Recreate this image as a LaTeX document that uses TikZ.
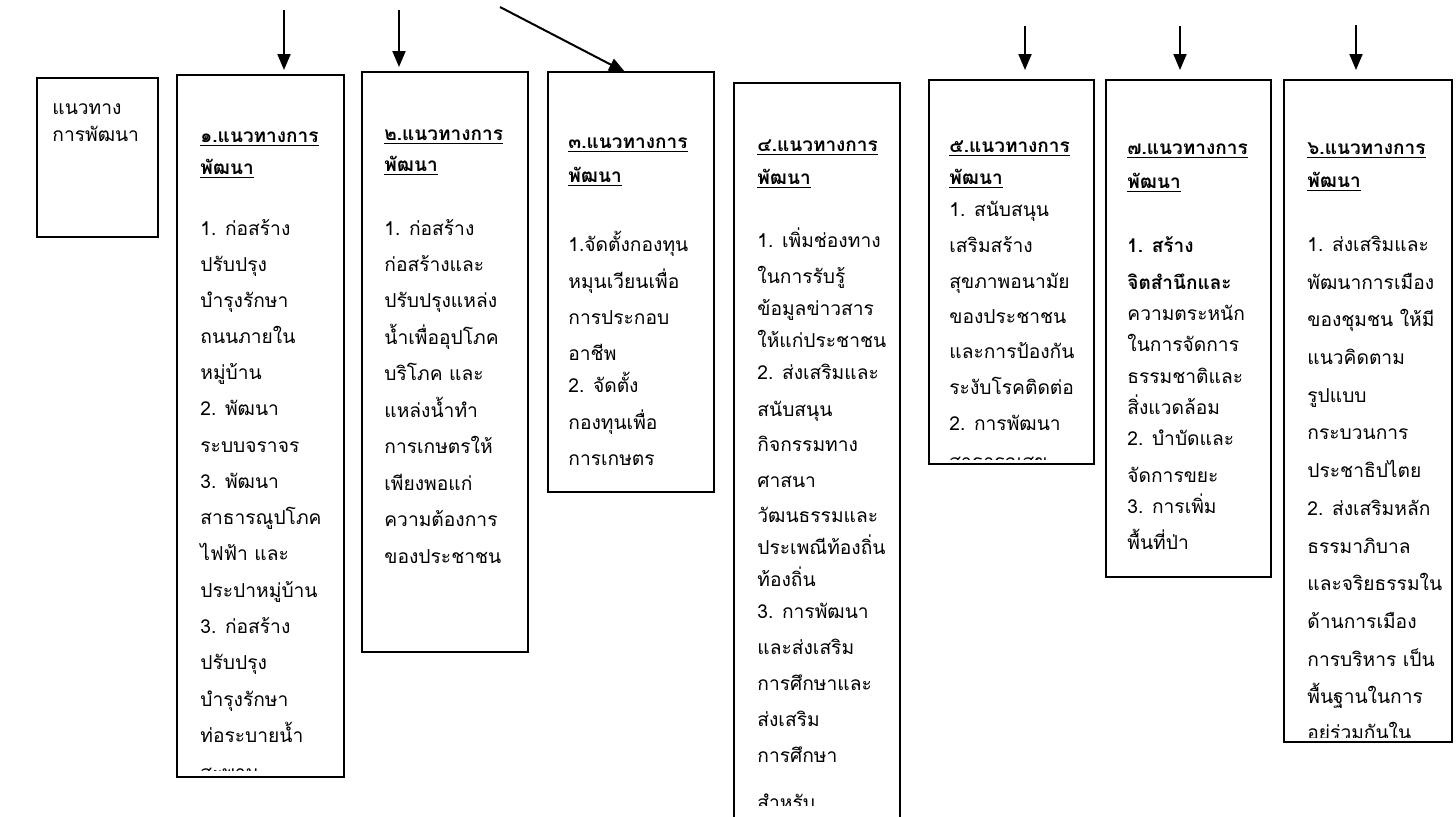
\documentclass[tikz,border=0pt]{standalone}
\usepackage{fontspec}
\newfontfamily\thai[Script=Thai]{Loma}
\usetikzlibrary{arrows.meta}
\newcommand\tf{\thai\fontsize{9.6}{11}\selectfont}
\newcommand\tfb{\thai\bfseries\fontsize{9.5}{11}\selectfont}
\newcommand\mkbox[5]{\node[box, minimum width={(#4-#2)*0.5pt}, minimum height={(#5-#3)*0.5pt}] (#1) at (#2,#3) {};}
\newcommand\mklines[3]{\foreach \yy/\txt [count=\i] in {#3} {\node[tline] (#1\i) at (#2,\yy+6) {\txt};}}
\begin{document}
\begin{tikzpicture}[x=0.5pt,y=-0.5pt,
  box/.style={draw, line width=1pt, inner sep=0pt, outer sep=0pt, anchor=north west},
  tline/.style={anchor=base west, inner sep=0pt, font=\tf},
  hline/.style={anchor=base west, inner sep=0pt, font=\tfb},
  arr/.style={line width=1pt, -{Triangle[length=8pt,width=6.5pt]}, shorten >=2.5pt},
  uline/.style={line width=0.6pt}]
\useasboundingbox (0,0) rectangle (1456,816);
\fill[white] (0,0) rectangle (1456,816);

% boxes
\mkbox{B0}{37}{78}{158}{237}
\mkbox{B1}{177}{75}{344}{777}
\mkbox{B2}{362}{72}{528}{652}
\mkbox{B3}{548}{72}{714}{492}
\mkbox{B4}{734}{83}{900}{840}
\mkbox{B5}{929}{80}{1094}{464}
\mkbox{B7}{1106}{80}{1271}{577}
\mkbox{B6}{1284}{80}{1452}{742}

% box 0
\node[tline] (t0a) at (52,108+6) {แนวทาง};
\node[tline] (t0b) at (52,135+6) {การพัฒนา};

% box 1
\begin{scope}
\clip (178,76) rectangle (343,770);
\node[hline] (h1a) at (200,136+6) {๑.แนวทางการ};
\node[hline] (h1b) at (200,168+6) {พัฒนา};
\mklines{l1-}{200}{229/1. ก่อสร้าง,265/ปรับปรุง,301/บำรุงรักษา,337/ถนนภายใน,373/หมู่บ้าน,409/2. พัฒนา,446/ระบบจราจร,482/3. พัฒนา,518/สาธารณูปโภค,554/ไฟฟ้า และ,591/ประปาหมู่บ้าน,627/3. ก่อสร้าง,663/ปรับปรุง,700/บำรุงรักษา,736/ท่อระบายน้ำ,773/สะพาน}
\end{scope}

% box 2
\begin{scope}
\clip (363,73) rectangle (527,651);
\node[hline] (h2a) at (384,134+6) {๒.แนวทางการ};
\node[hline] (h2b) at (384,165+6) {พัฒนา};
\mklines{l2-}{384}{229/1. ก่อสร้าง,265/ก่อสร้างและ,301/ปรับปรุงแหล่ง,338/น้ำเพื่ออุปโภค,374/บริโภค และ,411/แหล่งน้ำทำ,447/การเกษตรให้,484/เพียงพอแก่,520/ความต้องการ,557/ของประชาชน}
\end{scope}

% box 3
\begin{scope}
\clip (549,73) rectangle (713,491);
\node[hline] (h3a) at (568,142+6) {๓.แนวทางการ};
\node[hline] (h3b) at (568,176+6) {พัฒนา};
\mklines{l3-}{568}{245/1.จัดตั้งกองทุน,282/หมุนเวียนเพื่อ,318/การประกอบ,354/อาชีพ,386/2. จัดตั้ง,423/กองทุนเพื่อ,459/การเกษตร}
\end{scope}

% box 4
\begin{scope}
\clip (735,84) rectangle (899,805);
\node[hline] (h4a) at (757,145+6) {๔.แนวทางการ};
\node[hline] (h4b) at (757,178+6) {พัฒนา};
\mklines{l4-}{757}{241/1. เพิ่มช่องทาง,277/ในการรับรู้,309/ข้อมูลข่าวสาร,341/ให้แก่ประชาชน,373/2. ส่งเสริมและ,410/สนับสนุน,445/กิจกรรมทาง,481/ศาสนา,516/วัฒนธรรมและ,548/ประเพณีท้องถิ่น,580/ท้องถิ่น,612/3. การพัฒนา,648/และส่งเสริม,684/การศึกษาและ,720/ส่งเสริม,756/การศึกษา,803/สำหรับ}
\end{scope}

% box 5
\begin{scope}
\clip (930,81) rectangle (1093,459);
\node[hline] (h5a) at (949,146+6) {๕.แนวทางการ};
\node[hline] (h5b) at (949,178+6) {พัฒนา};
\mklines{l5-}{949}{210/1. สนับสนุน,246/เสริมสร้าง,282/สุขภาพอนามัย,317/ของประชาชน,352/และการป้องกัน,388/ระงับโรคติดต่อ,424/2. การพัฒนา,462/สาธารณสุข}
\end{scope}

% box 7
\begin{scope}
\clip (1107,81) rectangle (1270,576);
\node[hline] (h7a) at (1127,148+6) {๗.แนวทางการ};
\node[hline] (h7b) at (1127,182+6) {พัฒนา};
\node[hline] (l7-a) at (1127,246+6) {1. สร้าง};
\node[hline] (l7-b) at (1127,283+6) {จิตสำนึกและ};
\mklines{l7-}{1127}{314/ความตระหนัก,345/ในการจัดการ,377/ธรรมชาติและ,408/สิ่งแวดล้อม,439/2. บำบัดและ,476/จัดการขยะ,507/3. การเพิ่ม,543/พื้นที่ป่า}
\end{scope}

% box 6
\begin{scope}
\clip (1285,81) rectangle (1451,737);
\node[hline] (h6a) at (1307,148+6) {๖.แนวทางการ};
\node[hline] (h6b) at (1307,181+6) {พัฒนา};
\mklines{l6-}{1307}{245/1. ส่งเสริมและ,283/พัฒนาการเมือง,320/ของชุมชน ให้มี,358/แนวคิดตาม,396/รูปแบบ,433/กระบวนการ,471/ประชาธิปไตย,509/2. ส่งเสริมหลัก,547/ธรรมาภิบาล,584/และจริยธรรมใน,622/ด้านการเมือง,660/การบริหาร เป็น,697/พื้นฐานในการ,733/อยู่ร่วมกันใน}
\end{scope}

% underlines
\foreach \n in {h1a,h1b,h2a,h2b,h3a,h3b,h4a,h4b,h5a,h5b,h7a,h7b,h6a,h6b}
  \draw[uline] ([yshift=-1.8pt]\n.base west) -- ([yshift=-1.8pt]\n.base east);

% arrows
\coordinate (a1) at (284,10);
\coordinate (a2) at (399,10);
\coordinate (a3) at (500,7);
\coordinate (a4) at (1025,26);
\coordinate (a5) at (1180,26);
\coordinate (a6) at (1356,25);
\draw[arr] (a1) -- (a1 |- B1.north);
\draw[arr] (a2) -- (a2 |- B2.north);
\draw[arr, shorten >=0pt] (a3) -- ([xshift=38.5pt]B3.north west);
\draw[arr, shorten >=5pt] (a4) -- (a4 |- B5.north);
\draw[arr, shorten >=5pt] (a5) -- (a5 |- B7.north);
\draw[arr, shorten >=5pt] (a6) -- (a6 |- B6.north);
\end{tikzpicture}
\end{document}
